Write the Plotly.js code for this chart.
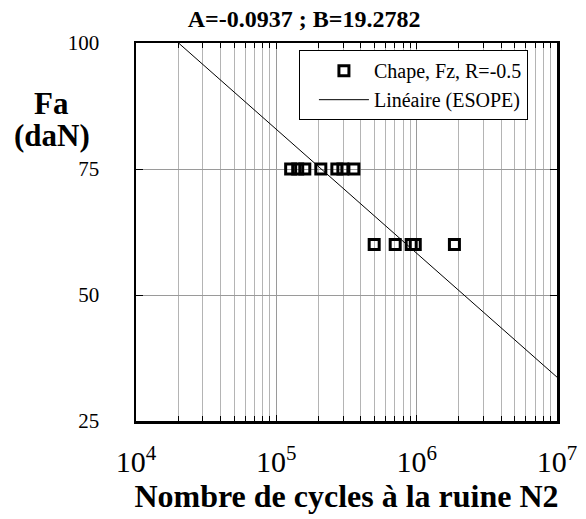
<!DOCTYPE html>
<html>
<head>
<meta charset="utf-8">
<script src="https://cdn.plot.ly/plotly-3.0.1.min.js"></script>
<style>html,body{margin:0;padding:0;background:#fff;}#chart{width:586px;height:519px;}</style>
</head>
<body>
<div id="chart"></div>
<script>
// Test points: cycles to failure N2 and load Fa (daN)
const cyclesN = [126500, 142000, 159500, 207500, 270000, 298000, 357000,
                 498000, 703000, 914000, 977000, 1858000];
const loadFa  = [75, 75, 75, 75, 75, 75, 75,
                 60, 60, 60, 60, 60];
// Fitted curve (ESOPE) endpoints
const lineN  = [20100, 10000000];
const lineFa = [100, 33.7];

const titleText = "A=-0.0937 ; B=19.2782";
const seriesName = "Chape, Fz, R=-0.5";
const lineName = "Linéaire (ESOPE)";
const xTitle = "Nombre de cycles à la ruine N2";
const yTitleTop = "Fa";
const yTitleBottom = "(daN)";
const yTicks = [25, 50, 75, 100];

const serif = "Liberation Serif";

const traces = [
  {
    x: cyclesN, y: loadFa, type: "scatter", mode: "markers", name: seriesName,
    marker: {symbol: "square-open", size: 10, color: "#000", line: {color: "#000", width: 3}}
  },
  {
    x: lineN, y: lineFa, type: "scatter", mode: "lines", name: lineName,
    line: {color: "#000", width: 1}
  }
];

const titleFont = {family: serif, size: 31, color: "#000", weight: "bold"};

const layout = {
  width: 586, height: 519,
  margin: {l: 136, r: 29, t: 43, b: 98},
  paper_bgcolor: "#fff", plot_bgcolor: "#fff",
  font: {family: serif, color: "#000"},
  title: {text: titleText, font: {family: serif, size: 24, color: "#000", weight: "bold"},
          x: 0.519, xanchor: "center", y: 0.965, yanchor: "middle"},
  xaxis: {
    type: "log", range: [4, 7], dtick: 1, exponentformat: "power",
    showline: true, linewidth: 2.5, linecolor: "#000", mirror: "allticks",
    ticks: "inside", ticklen: 6, tickcolor: "#000", tickwidth: 1,
    showgrid: true, gridcolor: "#9a9a9a", gridwidth: 1,
    tickfont: {family: serif, size: 24, color: "#000"},
    ticklabelstandoff: 14,
    minor: {dtick: "D1", showgrid: true, gridcolor: "#b4b4b4", gridwidth: 1,
            ticks: "inside", ticklen: 5, tickcolor: "#000"},
    zeroline: false,
    title: {text: xTitle, font: {family: serif, size: 32, color: "#000", weight: "bold"}, standoff: 6}
  },
  yaxis: {
    range: [25, 100], tickvals: yTicks, ticktext: yTicks.map(String),
    showline: true, linewidth: 2.5, linecolor: "#000", mirror: "allticks",
    ticks: "inside", ticklen: 7, tickcolor: "#000",
    showgrid: true, gridcolor: "#9a9a9a", gridwidth: 1,
    tickfont: {family: serif, size: 21, color: "#000"},
    ticklabelstandoff: 30,
    zeroline: false
  },
  showlegend: true,
  legend: {
    x: 0.387, y: 0.981, xanchor: "left", yanchor: "top",
    bgcolor: "#fff", bordercolor: "#000", borderwidth: 1,
    font: {family: serif, size: 20, color: "#000"},
    itemwidth: 50, indentation: 14, tracegroupgap: 0
  },
  annotations: [
    {text: yTitleTop, xref: "paper", yref: "paper", x: -0.2, y: 0.841,
     xanchor: "center", yanchor: "middle", showarrow: false, font: titleFont},
    {text: yTitleBottom, xref: "paper", yref: "paper", x: -0.2, y: 0.754,
     xanchor: "center", yanchor: "middle", showarrow: false, font: titleFont}
  ]
};

Plotly.newPlot("chart", traces, layout, {displayModeBar: false, staticPlot: true});
</script>
</body>
</html>
